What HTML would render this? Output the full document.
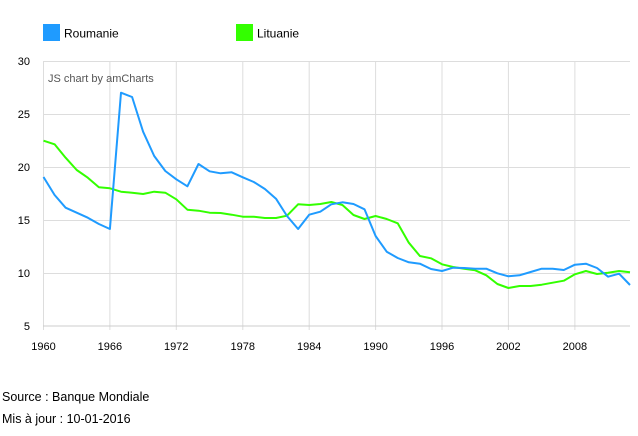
<!DOCTYPE html>
<html><head><meta charset="utf-8"><style>
body{margin:0;background:#fff;width:638px;height:431px;overflow:hidden;font-family:"Liberation Sans",sans-serif}
</style></head><body>
<svg width="638" height="431" xmlns="http://www.w3.org/2000/svg" font-family="Liberation Sans, sans-serif">
<rect x="43" y="24" width="17" height="17" fill="#1f9bff"/>
<text x="64" y="37.5" font-size="12" fill="#000">Roumanie</text>
<rect x="236" y="24" width="17" height="17" fill="#33ff00"/>
<text x="257" y="37.5" font-size="12" fill="#000">Lituanie</text>
<g stroke="#dddddd" stroke-width="1">
<line x1="43.5" y1="61.5" x2="630" y2="61.5"/>
<line x1="43.5" y1="114.5" x2="630" y2="114.5"/>
<line x1="43.5" y1="167.5" x2="630" y2="167.5"/>
<line x1="43.5" y1="220.5" x2="630" y2="220.5"/>
<line x1="43.5" y1="273.5" x2="630" y2="273.5"/>
<line x1="43.5" y1="61" x2="43.5" y2="330"/>
<line x1="109.9" y1="61" x2="109.9" y2="330"/>
<line x1="176.3" y1="61" x2="176.3" y2="330"/>
<line x1="242.8" y1="61" x2="242.8" y2="330"/>
<line x1="309.2" y1="61" x2="309.2" y2="330"/>
<line x1="375.6" y1="61" x2="375.6" y2="330"/>
<line x1="442" y1="61" x2="442" y2="330"/>
<line x1="508.4" y1="61" x2="508.4" y2="330"/>
<line x1="574.9" y1="61" x2="574.9" y2="330"/>
</g>
<line x1="43" y1="326" x2="630" y2="326" stroke="#cccccc"/>
<g font-size="11" fill="#000" text-anchor="end">
<text x="30" y="65">30</text><text x="30" y="118">25</text><text x="30" y="171">20</text><text x="30" y="224">15</text><text x="30" y="277">10</text><text x="30" y="330">5</text>
</g>
<g font-size="11" fill="#000" text-anchor="middle">
<text x="43.5" y="350">1960</text><text x="109.9" y="350">1966</text><text x="176.3" y="350">1972</text><text x="242.8" y="350">1978</text><text x="309.2" y="350">1984</text><text x="375.6" y="350">1990</text><text x="442" y="350">1996</text><text x="508.4" y="350">2002</text><text x="574.9" y="350">2008</text>
</g>
<text x="48" y="82" font-size="11" fill="#555">JS chart by amCharts</text>
<polyline fill="none" stroke="#33ff00" stroke-width="2" stroke-linejoin="round" points="43.5,140.7 54.6,144.3 65.6,157.7 76.7,170 87.8,177.7 98.9,187.3 109.9,188.3 121,191.7 132.1,192.7 143.1,194 154.2,191.7 165.3,192.7 176.3,199.3 187.4,209.7 198.5,210.7 209.6,212.7 220.6,213 231.7,214.7 242.8,216.7 253.8,216.7 264.9,218 276,218 287,215.7 298.1,204.3 309.2,205 320.3,204 331.3,202 342.4,205 353.5,215 364.5,219 375.6,216 386.7,219 397.7,223.3 408.8,242.7 419.9,256 431,258.3 442,264.3 453.1,267 464.2,268.7 475.2,270.3 486.3,275.3 497.4,284 508.4,288 519.5,286 530.6,286 541.7,284.7 552.7,282.7 563.8,280.7 574.9,274.3 585.9,271 597,274 608.1,272.7 619.1,271 630,272.3"/>
<polyline fill="none" stroke="#1f9bff" stroke-width="2" stroke-linejoin="round" points="43.5,177 54.6,195 65.6,207.7 76.7,212.7 87.8,217.7 98.9,224 109.9,229 121,92.7 132.1,97 143.1,131.7 154.2,156 165.3,171 176.3,179.3 187.4,186.3 198.5,164 209.6,171.3 220.6,173.3 231.7,172.3 242.8,177.3 253.8,182 264.9,189 276,198.7 287,216 298.1,229 309.2,214.7 320.3,211.7 331.3,204.3 342.4,202.3 353.5,204 364.5,209.3 375.6,236 386.7,251.7 397.7,258 408.8,262.3 419.9,263.7 431,269 442,271 453.1,267.7 464.2,268 475.2,268.7 486.3,268.7 497.4,273.3 508.4,276.3 519.5,275.3 530.6,272 541.7,268.7 552.7,268.7 563.8,270 574.9,264.7 585.9,263.7 597,268 608.1,276.7 619.1,273.7 630,285"/>
<text x="2" y="401" font-size="12.5" fill="#000">Source : Banque Mondiale</text>
<text x="2" y="423" font-size="12.5" fill="#000">Mis à jour : 10-01-2016</text>
</svg>
</body></html>
